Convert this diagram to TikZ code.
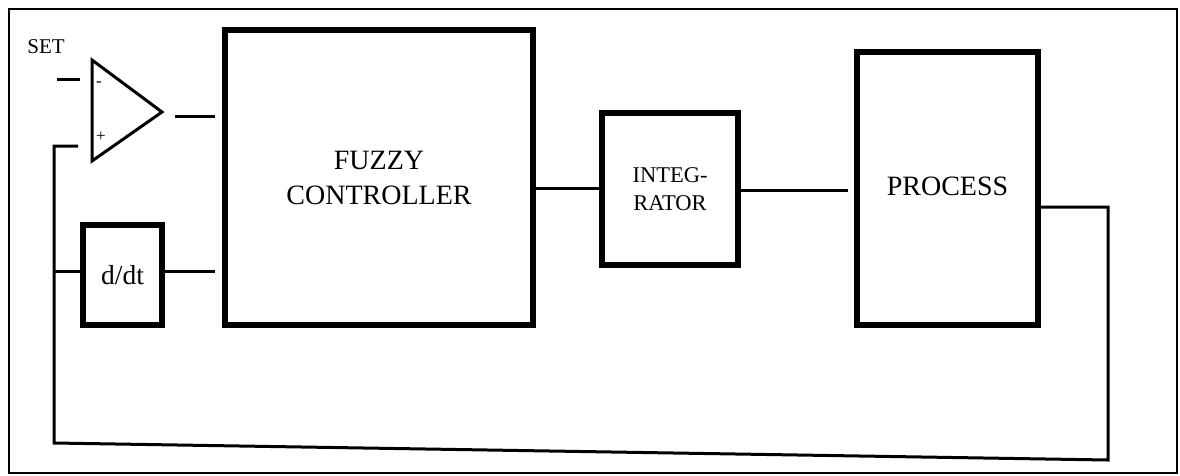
\documentclass[tikz,border=0pt]{standalone}
\usepackage{fontspec}
\setmainfont{Liberation Serif}
\begin{document}
\begin{tikzpicture}[x=1pt,y=-1pt,
  blockbox/.style={draw,line width=6pt,rectangle,inner sep=0pt,outer sep=0pt,align=center},
  wire/.style={line width=3pt},
  framebox/.style={line width=2pt},
  signlabel/.style={font=\fontsize{17}{19}\selectfont,inner sep=0pt}]
\useasboundingbox (0,0) rectangle (1180,475);
\draw[framebox] (9,9) rectangle (1177,473);
% label
\node[font=\fontsize{21}{24}\selectfont] (set) at (46,47) {SET};
% comparator
\coordinate (cmpTop) at (92,60);
\coordinate (cmpBot) at (92,161);
\coordinate (cmpApex) at (162,112);
\draw[line width=3pt,line join=miter] (cmpTop) -- (cmpApex) -- (cmpBot) -- cycle;
\node[signlabel] (minus) at (99,84) {-};
\node[signlabel] (plus) at (101,137) {+};
% blocks
\node[blockbox,minimum width=79pt,minimum height=100pt,font=\fontsize{27.5}{30}\selectfont] (ddt) at (122.5,275) {d/dt};
\node[blockbox,minimum width=308pt,minimum height=295pt,font=\fontsize{28}{35}\selectfont] (fuzzy) at (379,177.5) {FUZZY\\CONTROLLER};
\node[blockbox,minimum width=136pt,minimum height=152pt,font=\fontsize{22.5}{28}\selectfont] (integ) at (670,189) {INTEG-\\RATOR};
\node[blockbox,minimum width=181pt,minimum height=273pt,font=\fontsize{28}{32}\selectfont,text depth=0pt] (proc) at (947.5,188.5) {\raisebox{5pt}{PROCESS}};
% coordinates for free ends
\coordinate (setA) at (57,79);
\coordinate (setB) at (80,79);
\coordinate (plusIn) at (78,146);
\coordinate (cmpA) at (175,116);
\coordinate (cmpB) at (215,116);
\coordinate (ddtB) at (215,271);
\coordinate (intB) at (848,190);
\coordinate (pOut) at (1038,207);
\coordinate (fbR) at (1108,207);
\coordinate (fbRB) at (1108,460);
\coordinate (fbLB) at (54,443);
\coordinate (fbLT) at (54,146);
\coordinate (fbBr) at (54,271);
% connectors
\draw[wire] (setA) -- (setB);
\draw[wire] (cmpA) -- (cmpB);
\draw[wire] (ddt.east |- ddtB) -- (ddtB);
\draw[wire] (fuzzy.east |- 0,188) -- (integ.west |- 0,188);
\draw[wire] (integ.east |- intB) -- (intB);
\draw[wire,line join=miter] (pOut) -- (fbR) -- (fbRB) -- (fbLB) -- (fbLT) -- (plusIn);
\draw[wire] (fbBr) -- (ddt.west |- fbBr);
\end{tikzpicture}
\end{document}
